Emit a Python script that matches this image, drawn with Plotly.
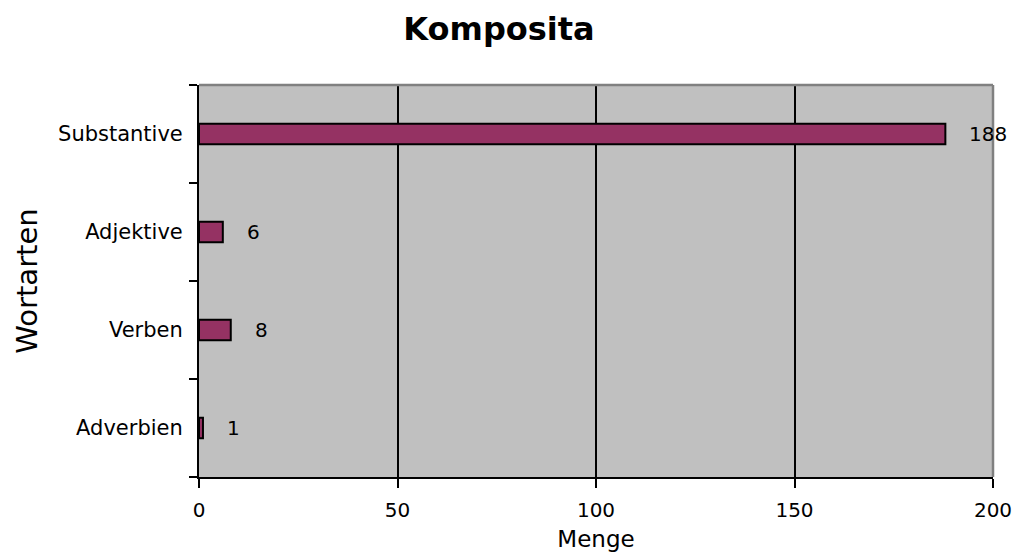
import plotly.graph_objects as go

# Wortarten der Komposita und ihre Anzahl
categories = ["Substantive", "Adjektive", "Verben", "Adverbien"]
counts = [188, 6, 8, 1]
x_ticks = [0, 50, 100, 150, 200]

FONT = "DejaVu Sans, Verdana, sans-serif"
BAR_COLOR = "#953263"

fig = go.Figure()
fig.add_trace(go.Bar(
    y=categories,
    x=counts,
    orientation="h",
    width=0.21,
    marker=dict(color=BAR_COLOR, line=dict(color="black", width=2)),
    hoverinfo="x+y",
))

# Wertebeschriftung rechts neben jedem Balken
for cat, val in zip(categories, counts):
    fig.add_annotation(
        x=val, y=cat, xref="x", yref="y",
        text=str(val), showarrow=False,
        xanchor="left", yanchor="middle", xshift=22,
        font=dict(family=FONT, size=20, color="black"),
    )

# Obere und rechte Kante der Zeichenfläche in Grau
fig.add_shape(type="line", xref="x domain", yref="y domain",
              x0=0, x1=1, y0=1, y1=1, line=dict(color="#808080", width=2.5))
fig.add_shape(type="line", xref="x domain", yref="y domain",
              x0=1, x1=1, y0=0, y1=1, line=dict(color="#808080", width=2.5))

fig.update_layout(
    width=1016, height=560,
    margin=dict(l=199, r=23, t=85, b=83),
    paper_bgcolor="white",
    plot_bgcolor="#c0c0c0",
    showlegend=False,
    font=dict(family=FONT, size=20, color="black"),
    title=dict(
        text="<b>Komposita</b>",
        x=499 / 1016, xanchor="center",
        y=1 - 29 / 560, yanchor="middle",
        font=dict(family=FONT, size=32, color="black"),
    ),
    xaxis=dict(
        range=[0, 200],
        tickvals=x_ticks,
        automargin=False,
        ticks="outside", ticklen=9, tickwidth=2, tickcolor="black",
        showline=True, linecolor="black", linewidth=2,
        showgrid=True, gridcolor="black", gridwidth=2,
        zeroline=False,
        ticklabelstandoff=5,
        title=dict(text="Menge", font=dict(family=FONT, size=23), standoff=10),
        tickfont=dict(family=FONT, size=20),
    ),
    yaxis=dict(
        categoryorder="array",
        categoryarray=categories[::-1],
        automargin=False,
        ticks="outside", ticklen=8, tickwidth=2, tickcolor="black",
        tickson="boundaries",
        showline=True, linecolor="black", linewidth=2,
        showgrid=False,
        ticklabelstandoff=10,
        title=dict(text="Wortarten", font=dict(family=FONT, size=29), standoff=12),
        tickfont=dict(family=FONT, size=21),
    ),
)

fig.write_html("out.html")
